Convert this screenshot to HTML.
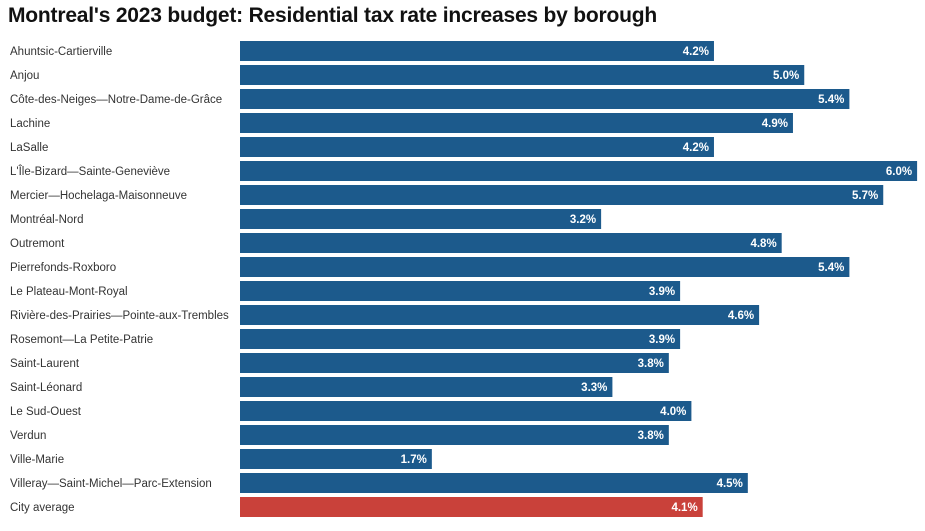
<!DOCTYPE html>
<html><head><meta charset="utf-8"><style>
body{margin:0;background:#fff;width:925px;height:531px;overflow:hidden;font-family:"Liberation Sans",sans-serif}
h1{position:absolute;left:8px;top:4px;margin:0;font-size:21px;font-weight:bold;color:#111;letter-spacing:-0.2px}
</style></head><body>
<h1>Montreal's 2023 budget: Residential tax rate increases by borough</h1>
<svg id="chart" width="925" height="531" style="position:absolute;left:0;top:0"></svg>
<script>
const boroughs=["Ahuntsic-Cartierville","Anjou","Côte-des-Neiges—Notre-Dame-de-Grâce","Lachine","LaSalle","L'Île-Bizard—Sainte-Geneviève","Mercier—Hochelaga-Maisonneuve","Montréal-Nord","Outremont","Pierrefonds-Roxboro","Le Plateau-Mont-Royal","Rivière-des-Prairies—Pointe-aux-Trembles","Rosemont—La Petite-Patrie","Saint-Laurent","Saint-Léonard","Le Sud-Ouest","Verdun","Ville-Marie","Villeray—Saint-Michel—Parc-Extension","City average"];
const rates=[4.2,5.0,5.4,4.9,4.2,6.0,5.7,3.2,4.8,5.4,3.9,4.6,3.9,3.8,3.3,4.0,3.8,1.7,4.5,4.1];
const svg=document.getElementById('chart');
const NS='http://www.w3.org/2000/svg';
const x0=240,scale=112.85,y0=41,pitch=24,bh=20;
const xf=v=>x0+v*scale, yf=i=>y0+i*pitch;
boroughs.forEach((b,i)=>{
  const t=document.createElementNS(NS,'text');
  
  
  t.setAttribute('x',10);t.setAttribute('y',yf(i)+14);
  t.setAttribute('font-size','11.5');t.setAttribute('fill','#333');
  t.textContent=b;svg.appendChild(t);
  const r=document.createElementNS(NS,'rect');
  
  
  r.setAttribute('x',x0);r.setAttribute('y',yf(i));
  r.setAttribute('width',xf(rates[i])-x0);r.setAttribute('height',bh);
  r.setAttribute('fill',i===boroughs.length-1?'#c9413a':'#1c5a8c');
  svg.appendChild(r);
  const v=document.createElementNS(NS,'text');
  
  
  v.setAttribute('x',xf(rates[i])-5);v.setAttribute('y',yf(i)+14);
  v.setAttribute('text-anchor','end');v.setAttribute('font-size','11.5');
  v.setAttribute('font-weight','bold');v.setAttribute('fill','#fff');
  v.textContent=rates[i].toFixed(1)+'%';svg.appendChild(v);
});
</script>
</body></html>
